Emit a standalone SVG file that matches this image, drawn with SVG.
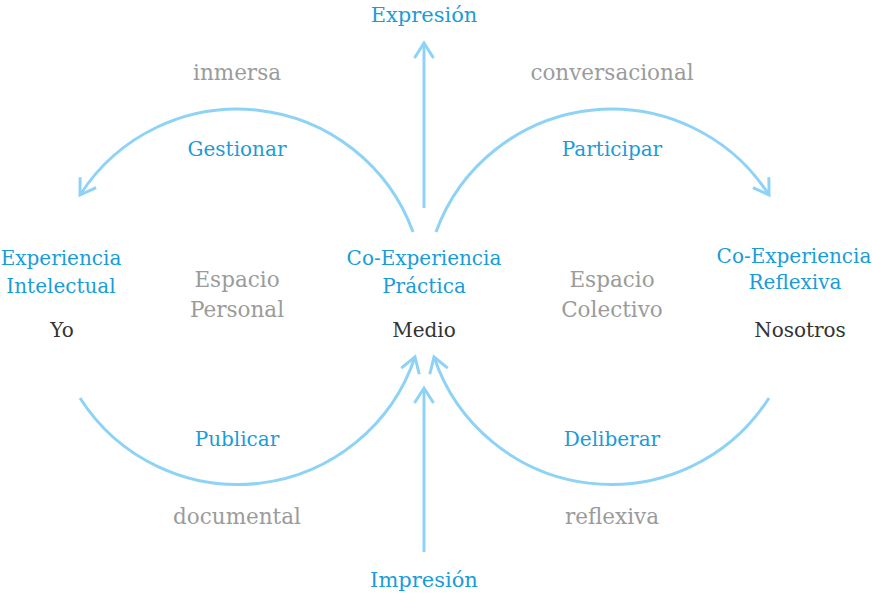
<svg xmlns="http://www.w3.org/2000/svg" width="872" height="593" viewBox="0 0 872 593">
<style>
text{font-family:"DejaVu Serif","Liberation Serif",serif;text-anchor:middle}
.b{fill:#1a9cd8;font-size:20px}
.bl{fill:#1a9cd8;font-size:21px}
.g{fill:#9b9b9b;font-size:21.5px}
.d{fill:#333333;font-size:20px}
.c{fill:none;stroke:#8ed3f6;stroke-width:3;stroke-linecap:butt}
</style>
<defs>
<marker id="ah" markerUnits="userSpaceOnUse" viewBox="-20 -12 24 24" refX="0" refY="0" markerWidth="24" markerHeight="24" orient="auto" overflow="visible">
<path d="M-15,-9.5 L0,0 L-15,9.5" fill="none" stroke="#8ed3f6" stroke-width="3"/>
</marker>
</defs>
<g id="connectors">
<path class="c" d="M424,208 L424,43" marker-end="url(#ah)"/>
<path class="c" d="M424,552 L424,388" marker-end="url(#ah)"/>
<path class="c" d="M413,232 A187,187 0 0 0 80,195" marker-end="url(#ah)"/>
<path class="c" d="M436,232 A187,187 0 0 1 769,195" marker-end="url(#ah)"/>
<path class="c" d="M80,398 A187,187 0 0 0 415,357" marker-end="url(#ah)"/>
<path class="c" d="M769,398 A187,187 0 0 1 434,357" marker-end="url(#ah)"/>
</g>
<g id="labels">
<text class="g" x="237" y="80">inmersa</text>
<text class="g" x="612" y="80">conversacional</text>
<text class="b" x="237" y="156">Gestionar</text>
<text class="b" x="612" y="156">Participar</text>
<text class="b" x="237" y="446">Publicar</text>
<text class="b" x="612" y="446">Deliberar</text>
<text class="g" x="237" y="524">documental</text>
<text class="g" x="612" y="524">reflexiva</text>
</g>
<g id="expresion"><text class="bl" x="424" y="22">Expresión</text></g>
<g id="impresion"><text class="bl" x="424" y="587">Impresión</text></g>
<g id="espacio-personal">
<text class="g" x="237" y="287">Espacio</text>
<text class="g" x="237" y="317">Personal</text>
</g>
<g id="espacio-colectivo">
<text class="g" x="612" y="287">Espacio</text>
<text class="g" x="612" y="317">Colectivo</text>
</g>
<g id="yo">
<text class="b" x="61" y="265">Experiencia</text>
<text class="b" x="61" y="293">Intelectual</text>
<text class="d" x="62" y="337">Yo</text>
</g>
<g id="medio">
<text class="b" x="424" y="265">Co-Experiencia</text>
<text class="b" x="424" y="293">Práctica</text>
<text class="d" x="424" y="337">Medio</text>
</g>
<g id="nosotros">
<text class="b" x="794" y="263">Co-Experiencia</text>
<text class="b" x="795" y="289">Reflexiva</text>
<text class="d" x="800" y="337">Nosotros</text>
</g>
</svg>
